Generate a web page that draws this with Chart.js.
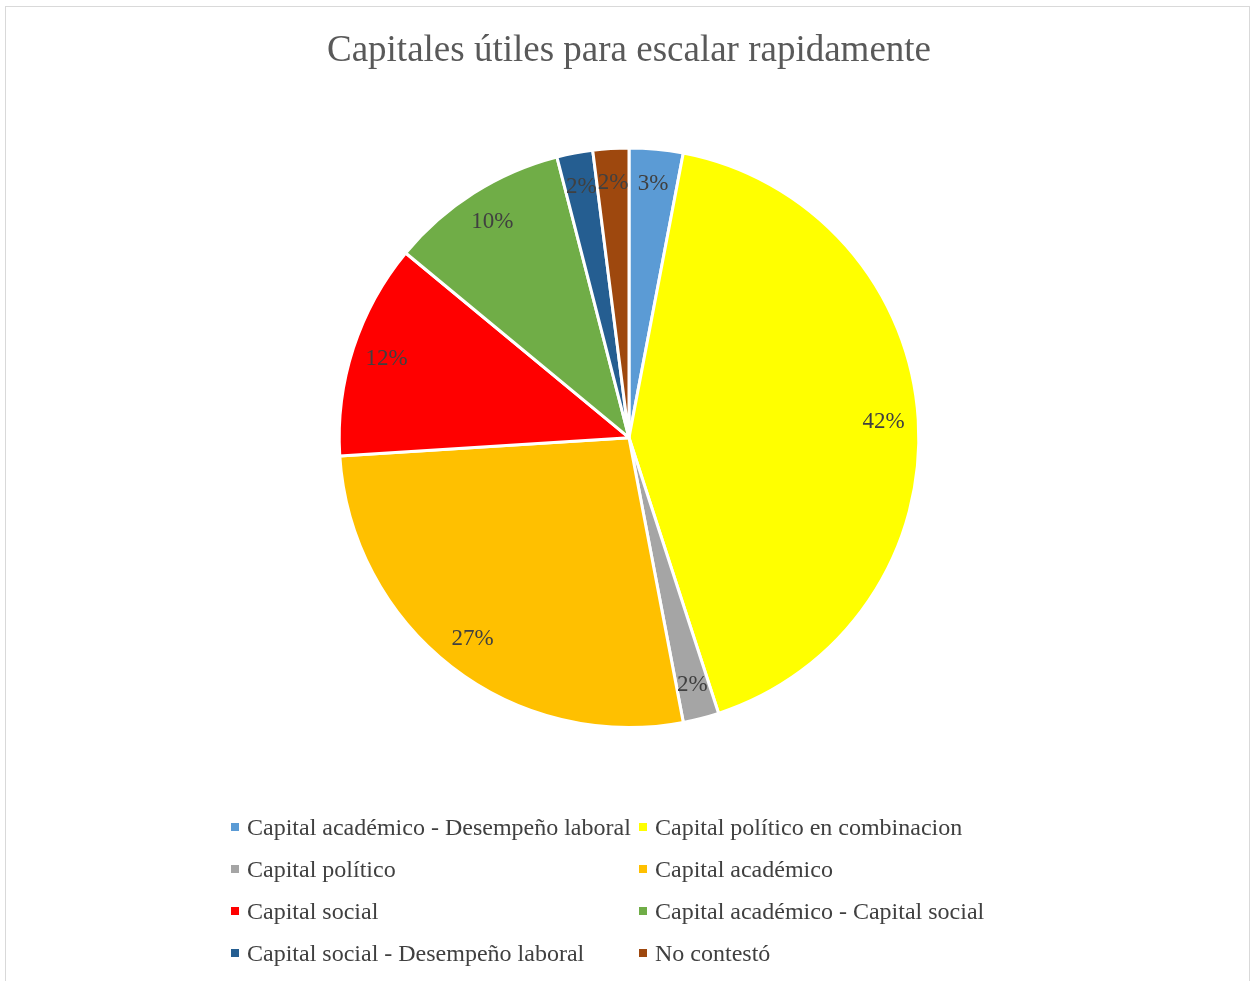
<!DOCTYPE html>
<html>
<head>
<meta charset="utf-8">
<script src="https://cdn.jsdelivr.net/npm/chart.js@4.4.1/dist/chart.umd.min.js"></script>
<style>
    html, body { margin: 0; padding: 0; background: #fff; }
    #wrap { position: relative; width: 1253px; height: 981px; overflow: hidden; }
    #frame {
        position: absolute; left: 5px; top: 6px; width: 1245px; height: 990px;
        border: 1px solid #d9d9d9; box-sizing: border-box;
    }
    #pie { position: absolute; left: 0; top: 0; }
    #legend {
        position: absolute; left: 231px; top: 806px;
        display: grid; grid-template-columns: 408px 400px; grid-auto-rows: 42px;
        font-family: "Liberation Serif", "Times New Roman", serif; font-size: 24px; color: #404040;
    }
    #legend .item { display: flex; align-items: center; white-space: nowrap; }
    #legend .box { width: 8px; height: 8px; margin-right: 8px; flex: none; }
</style>
</head>
<body>
<div id="wrap">
    <div id="frame"></div>
    <canvas id="pie" width="1253" height="981"></canvas>
    <div id="legend"></div>
</div>
<script>
const categories = [
    'Capital académico - Desempeño laboral',
    'Capital político en combinacion',
    'Capital político',
    'Capital académico',
    'Capital social',
    'Capital académico - Capital social',
    'Capital social - Desempeño laboral',
    'No contestó'
];
const percentages = [3, 42, 2, 27, 12, 10, 2, 2];
const sliceColors = ['#5b9bd5', '#ffff00', '#a5a5a5', '#ffc000', '#ff0000', '#70ad47', '#255e91', '#9e480e'];

// percentage text inside each slice, near the rim
const sliceLabels = {
    id: 'sliceLabels',
    afterDatasetsDraw(chart) {
        const ctx = chart.ctx;
        const meta = chart.getDatasetMeta(0);
        ctx.save();
        ctx.font = '23px "Liberation Serif", "Times New Roman", serif';
        ctx.fillStyle = '#404040';
        ctx.textAlign = 'center';
        ctx.textBaseline = 'middle';
        meta.data.forEach((arc, i) => {
            const mid = (arc.startAngle + arc.endAngle) / 2;
            const r = arc.outerRadius * 0.88;
            ctx.fillText(percentages[i] + '%', arc.x + Math.cos(mid) * r, arc.y + Math.sin(mid) * r);
        });
        ctx.restore();
    }
};

const chart = new Chart(document.getElementById('pie'), {
    type: 'pie',
    data: {
        labels: categories,
        datasets: [{
            data: percentages,
            backgroundColor: sliceColors,
            borderColor: '#ffffff',
            borderWidth: 3
        }]
    },
    options: {
        responsive: false,
        animation: false,
        layout: { padding: { left: 5, right: 0, top: 0, bottom: 252 } },
        plugins: {
            legend: { display: false },
            tooltip: { enabled: false },
            title: {
                display: true,
                text: 'Capitales útiles para escalar rapidamente',
                color: '#595959',
                font: { family: '"Liberation Serif", "Times New Roman", serif', size: 37, weight: 'normal' },
                padding: { top: 29, bottom: 73 }
            }
        }
    },
    plugins: [sliceLabels]
});

// two-column legend built from the chart's own legend items
const legendEl = document.getElementById('legend');
chart.options.plugins.legend.labels.generateLabels(chart).forEach((item) => {
    const row = document.createElement('div');
    row.className = 'item';
    const box = document.createElement('span');
    box.className = 'box';
    box.style.background = item.fillStyle;
    const txt = document.createElement('span');
    txt.textContent = item.text;
    row.appendChild(box);
    row.appendChild(txt);
    legendEl.appendChild(row);
});
</script>
</body>
</html>
